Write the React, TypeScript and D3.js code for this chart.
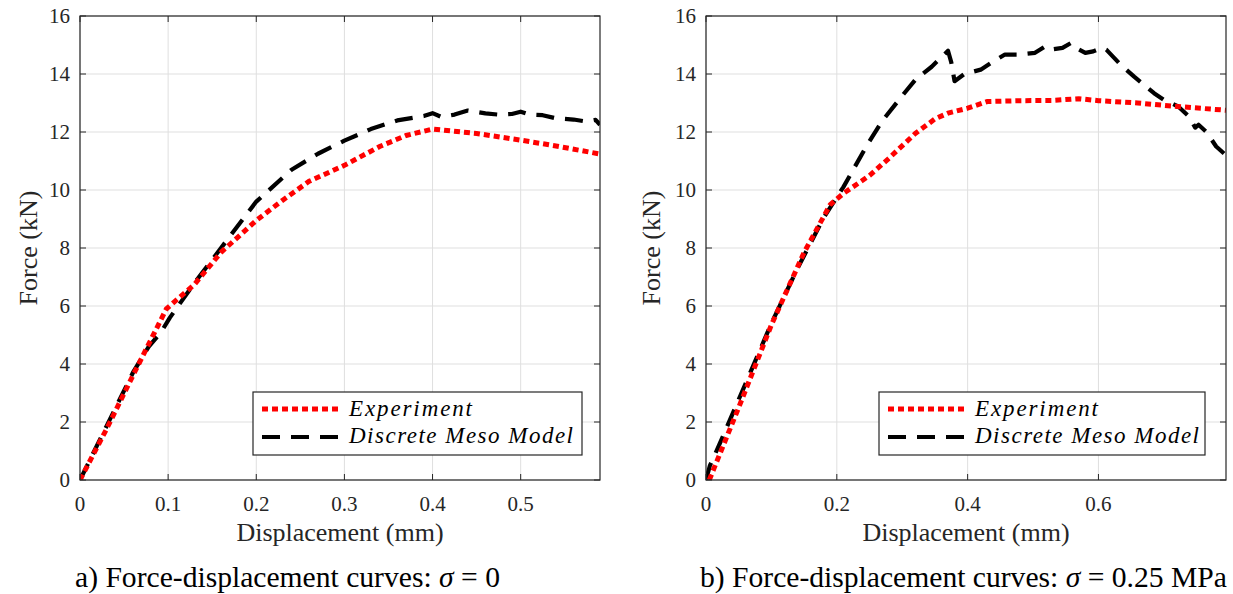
import React from 'react';
import * as d3 from 'd3';

// ---------- data ----------
const yTicks = [0, 2, 4, 6, 8, 10, 12, 14, 16];
const leftXTicks = [0, 0.1, 0.2, 0.3, 0.4, 0.5];
const rightXTicks = [0, 0.2, 0.4, 0.6];
const leftXMax = 0.59;
const rightXMax = 0.795;
const seriesNames = ['Experiment', 'Discrete Meso Model'];

// a) sigma = 0
const leftExpX = [0, 0.03, 0.06, 0.098, 0.13, 0.16, 0.2, 0.23, 0.26, 0.3, 0.34, 0.37, 0.4, 0.45, 0.5, 0.54, 0.59];
const leftExpY = [0, 1.75, 3.6, 5.9, 6.75, 7.85, 8.95, 9.65, 10.3, 10.85, 11.5, 11.88, 12.1, 11.95, 11.72, 11.52, 11.24];
const leftModelX = [0, 0.03, 0.06, 0.078, 0.092, 0.102, 0.13, 0.16, 0.2, 0.24, 0.27, 0.3, 0.33, 0.36, 0.39, 0.4, 0.41, 0.425, 0.44, 0.46, 0.475, 0.49, 0.5, 0.51, 0.525, 0.54, 0.56, 0.575, 0.585, 0.59];
const leftModelY = [0, 1.85, 3.7, 4.6, 5.1, 5.6, 6.8, 8.0, 9.6, 10.7, 11.25, 11.7, 12.1, 12.4, 12.55, 12.65, 12.52, 12.6, 12.74, 12.64, 12.6, 12.62, 12.7, 12.6, 12.58, 12.47, 12.43, 12.36, 12.42, 12.25];

// b) sigma = 0.25 MPa
const rightExpX = [0.005, 0.05, 0.1, 0.15, 0.19, 0.21, 0.25, 0.28, 0.32, 0.35, 0.37, 0.4, 0.43, 0.48, 0.53, 0.57, 0.6, 0.66, 0.72, 0.795];
const rightExpY = [0, 2.5, 5.35, 7.85, 9.5, 9.88, 10.5, 11.1, 11.95, 12.45, 12.65, 12.82, 13.05, 13.08, 13.09, 13.15, 13.08, 13.0, 12.88, 12.75];
const rightModelX = [0, 0.006, 0.02, 0.06, 0.1, 0.14, 0.18, 0.21, 0.245, 0.27, 0.3, 0.32, 0.345, 0.37, 0.375, 0.38, 0.395, 0.42, 0.437, 0.457, 0.478, 0.503, 0.519, 0.53, 0.545, 0.558, 0.57, 0.58, 0.592, 0.605, 0.612, 0.634, 0.655, 0.685, 0.7, 0.722, 0.738, 0.748, 0.753, 0.765, 0.78, 0.795];
const rightModelY = [0, 0.5, 1.2, 3.3, 5.4, 7.3, 9.05, 10.1, 11.5, 12.4, 13.25, 13.8, 14.25, 14.8, 14.4, 13.75, 14.0, 14.15, 14.4, 14.67, 14.67, 14.73, 14.96, 14.85, 14.9, 15.07, 14.85, 14.73, 14.78, 14.9, 14.84, 14.32, 13.9, 13.34, 13.11, 12.88, 12.54, 12.15, 12.25, 12.0, 11.5, 11.2];

const FONT = '"Liberation Serif", "Times New Roman", serif';
const AX = '#262626';

type PanelProps = {
  id: string;
  x0: number;
  x1: number;
  xMax: number;
  xTicks: number[];
  expX: number[];
  expY: number[];
  modX: number[];
  modY: number[];
  legendX: number;
  legendW: number;
  yLabelX: number;
  captionX: number;
  captionTail: string;
};

function Panel(p: PanelProps) {
  const top = 16;
  const bottom = 480;
  const x = d3.scaleLinear().domain([0, p.xMax]).range([p.x0, p.x1]);
  const y = d3.scaleLinear().domain([0, 16]).range([bottom, top]);
  const line = d3.line<[number, number]>().x((d) => x(d[0])).y((d) => y(d[1]));
  const expPts = p.expX.map((v, i) => [v, p.expY[i]] as [number, number]);
  const modPts = p.modX.map((v, i) => [v, p.modY[i]] as [number, number]);
  const tick = 6;
  const lx = p.legendX;
  const ly = 392;
  return (
    <g>
      <defs>
        <clipPath id={p.id}>
          <rect x={p.x0} y={top} width={p.x1 - p.x0} height={bottom - top} />
        </clipPath>
      </defs>
      <rect x={p.x0} y={top} width={p.x1 - p.x0} height={bottom - top} fill="#fff" />
      {/* grid */}
      {p.xTicks.map((t) => (
        <line key={'gx' + t} x1={x(t)} x2={x(t)} y1={top} y2={bottom} stroke="#dfdfdf" strokeWidth={1} />
      ))}
      {yTicks.map((t) => (
        <line key={'gy' + t} x1={p.x0} x2={p.x1} y1={y(t)} y2={y(t)} stroke="#dfdfdf" strokeWidth={1} />
      ))}
      {/* series */}
      <g clipPath={`url(#${p.id})`}>
        <path d={line(modPts) || ''} fill="none" stroke="#000" strokeWidth={4.2} strokeDasharray="18 11" strokeLinejoin="round" />
        <path d={line(expPts) || ''} fill="none" stroke="#ff0000" strokeWidth={5} strokeDasharray="6 4" />
      </g>
      {/* box */}
      <rect x={p.x0} y={top} width={p.x1 - p.x0} height={bottom - top} fill="none" stroke={AX} strokeWidth={1.2} />
      {/* ticks */}
      {p.xTicks.map((t) => (
        <g key={'tx' + t}>
          <line x1={x(t)} x2={x(t)} y1={bottom} y2={bottom - tick} stroke={AX} />
          <line x1={x(t)} x2={x(t)} y1={top} y2={top + tick} stroke={AX} />
          <text x={x(t)} y={511} textAnchor="middle" fontFamily={FONT} fontSize={21} fill={AX}>
            {String(t)}
          </text>
        </g>
      ))}
      {yTicks.map((t) => (
        <g key={'ty' + t}>
          <line x1={p.x0} x2={p.x0 + tick} y1={y(t)} y2={y(t)} stroke={AX} />
          <line x1={p.x1} x2={p.x1 - tick} y1={y(t)} y2={y(t)} stroke={AX} />
          <text x={p.x0 - 10} y={y(t)} dy="0.35em" textAnchor="end" fontFamily={FONT} fontSize={21} fill={AX}>
            {String(t)}
          </text>
        </g>
      ))}
      {/* axis labels */}
      <text x={(p.x0 + p.x1) / 2} y={541} textAnchor="middle" fontFamily={FONT} fontSize={26} fill={AX}>
        Displacement (mm)
      </text>
      <text transform={`translate(${p.yLabelX},${(top + bottom) / 2}) rotate(-90)`} textAnchor="middle" fontFamily={FONT} fontSize={26} fill={AX}>
        Force (kN)
      </text>
      {/* legend */}
      <rect x={lx} y={ly} width={p.legendW} height={63} fill="#fff" stroke={AX} strokeWidth={1.2} />
      <line x1={lx + 9} x2={lx + 87} y1={ly + 17} y2={ly + 17} stroke="#ff0000" strokeWidth={5} strokeDasharray="6 4" />
      <line x1={lx + 9} x2={lx + 87} y1={ly + 45} y2={ly + 45} stroke="#000" strokeWidth={4.2} strokeDasharray="18 11" />
      <text x={lx + 96} y={ly + 24} fontFamily={FONT} fontStyle="italic" fontSize={23} fill="#000" textLength={123} lengthAdjust="spacing">
        {seriesNames[0]}
      </text>
      <text x={lx + 96} y={ly + 51} fontFamily={FONT} fontStyle="italic" fontSize={23} fill="#000" textLength={224} lengthAdjust="spacing">
        {seriesNames[1]}
      </text>
      {/* caption */}
      <text x={p.captionX} y={587} fontFamily={FONT} fontSize={29.6} fill="#000">
        {p.id === 'clipA' ? 'a)' : 'b)'} Force-displacement curves: <tspan fontStyle="italic">σ</tspan> = {p.captionTail}
      </text>
    </g>
  );
}

export default function App() {
  return (
    <svg width={1233} height={594} style={{ position: 'absolute', left: 0, top: 0, background: '#fff' }}>
      <rect x={0} y={0} width={1233} height={594} fill="#fff" />
      <Panel
        id="clipA"
        x0={80}
        x1={600}
        xMax={leftXMax}
        xTicks={leftXTicks}
        expX={leftExpX}
        expY={leftExpY}
        modX={leftModelX}
        modY={leftModelY}
        legendX={253}
        legendW={329}
        yLabelX={37}
        captionX={75}
        captionTail="0"
      />
      <Panel
        id="clipB"
        x0={706}
        x1={1226}
        xMax={rightXMax}
        xTicks={rightXTicks}
        expX={rightExpX}
        expY={rightExpY}
        modX={rightModelX}
        modY={rightModelY}
        legendX={879}
        legendW={326}
        yLabelX={660}
        captionX={700}
        captionTail="0.25 MPa"
      />
    </svg>
  );
}
